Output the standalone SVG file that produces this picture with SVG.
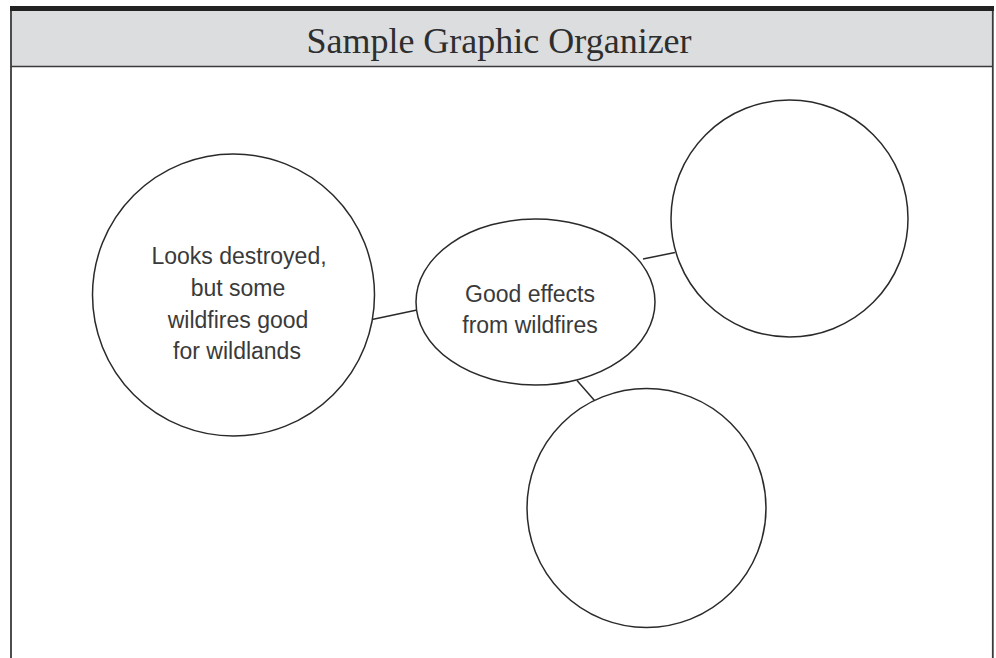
<svg xmlns="http://www.w3.org/2000/svg" width="996" height="658" viewBox="0 0 996 658">
<style>
.shape{fill:#fff;stroke:#2a2a2a;stroke-width:1.5}
.conn{stroke:#2a2a2a;stroke-width:1.5;fill:none}
.lbl{font-family:"Liberation Sans","DejaVu Sans",sans-serif;font-size:23px;fill:#3a3a3a;text-anchor:middle}
.title{font-family:"Liberation Serif","DejaVu Serif",serif;font-size:36px;fill:#2e2e2e;text-anchor:middle}
</style>
<rect x="0" y="0" width="996" height="658" fill="#fff"/>
<g id="frame">
<rect x="11" y="11" width="982" height="55.5" fill="#dcdddf"/>
<line x1="11" y1="66.5" x2="993" y2="66.5" stroke="#3a3a3a" stroke-width="1.6"/>
<line x1="11" y1="8" x2="11" y2="658" stroke="#3a3a3a" stroke-width="1.8"/>
<line x1="992.8" y1="8" x2="992.8" y2="658" stroke="#3a3a3a" stroke-width="1.8"/>
<rect x="10" y="6" width="984" height="5" fill="#222"/>
<text class="title" x="499" y="53">Sample Graphic Organizer</text>
</g>
<g id="connectors">
<line class="conn" x1="372" y1="319.5" x2="417" y2="310"/>
<line class="conn" x1="643" y1="259" x2="675" y2="252.5"/>
<line class="conn" x1="577" y1="380.5" x2="594.5" y2="400.5"/>
</g>
<g id="node-left">
<circle class="shape" cx="233.5" cy="295" r="141"/>
<text class="lbl" x="239" y="264">Looks destroyed,</text>
<text class="lbl" x="238" y="296">but some</text>
<text class="lbl" x="238" y="328">wildfires good</text>
<text class="lbl" x="237" y="359">for wildlands</text>
</g>
<g id="node-center">
<ellipse class="shape" cx="535.5" cy="302" rx="119.5" ry="83"/>
<text class="lbl" x="530" y="302">Good effects</text>
<text class="lbl" x="530" y="333">from wildfires</text>
</g>
<g id="node-topright">
<circle class="shape" cx="789.5" cy="218.5" r="118.5"/>
</g>
<g id="node-bottom">
<circle class="shape" cx="646.5" cy="508" r="119.5"/>
</g>
</svg>
